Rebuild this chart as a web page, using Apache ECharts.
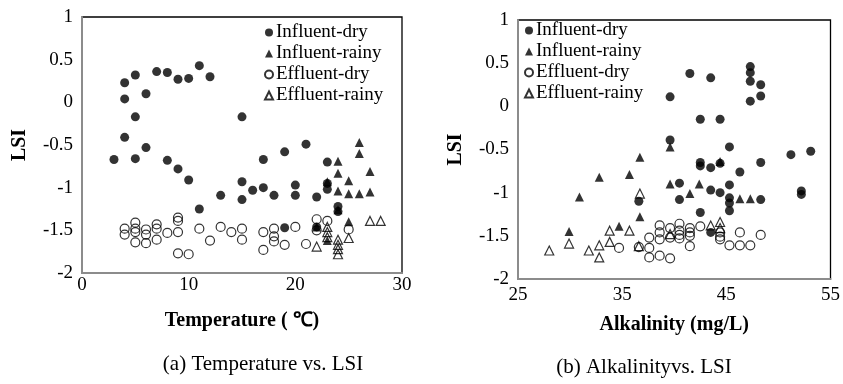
<!DOCTYPE html>
<html>
<head>
<meta charset="utf-8">
<script src="https://cdn.jsdelivr.net/npm/echarts@6/dist/echarts.min.js"></script>
<style>html,body{margin:0;padding:0;background:#fff;}#c{width:843px;height:384px;}</style>
</head>
<body>
<div id="c"></div>
<script>
// ---- Data: panel (a) Temperature (°C) vs LSI ----
const seriesNames = ['Influent-dry', 'Influent-rainy', 'Effluent-dry', 'Effluent-rainy'];
const tempTicks = [0, 10, 20, 30];
const alkTicks = [25, 35, 45, 55];
const lsiTicks = [-2, -1.5, -1, -0.5, 0, 0.5, 1];

const influentDryT = [
  [4,0.23],[5,0.32],[4,0.04],[6,0.10],[5,-0.17],[7,0.36],[8,0.35],[9,0.27],[10,0.28],[11,0.43],[12,0.30],[4,-0.41],[15,-0.17],
  [3,-0.67],[5,-0.66],[6,-0.53],[8,-0.68],[9,-0.78],[10,-0.91],[11,-1.25],
  [17,-0.67],[19,-0.58],[21,-0.49],[23,-0.70],[15,-0.93],[16,-1.03],[17,-1.00],[15,-1.14],[13,-1.09],[18,-1.09],
  [20,-0.97],[20,-1.09],[22,-1.11],[23,-0.95],[23,-1.02],[24,-1.22],[24,-1.28],[19,-1.47],[22,-1.46]
];
const influentRainyT = [
  [26,-0.47],[26,-0.60],[24,-0.69],[24,-0.83],[27,-0.81],[25,-0.92],[23,-0.93],[24,-1.04],[25,-1.07],[26,-1.07],
  [27,-1.05],[24,-1.26],[25,-1.40],[22,-1.46],[23,-1.62]
];
const effluentDryT = [
  [4,-1.48],[4,-1.55],[5,-1.41],[5,-1.48],[5,-1.52],[5,-1.64],[6,-1.49],[6,-1.55],[6,-1.65],[7,-1.43],[7,-1.48],[7,-1.61],
  [8,-1.53],[9,-1.35],[9,-1.39],[9,-1.52],[9,-1.77],[10,-1.78],[11,-1.48],[12,-1.62],
  [13,-1.46],[14,-1.52],[15,-1.48],[15,-1.61],[17,-1.52],[17,-1.73],[18,-1.48],[18,-1.57],[18,-1.63],[19,-1.67],
  [20,-1.46],[21,-1.66],[22,-1.37],[22,-1.50],[23,-1.39],[25,-1.49]
];
const effluentRainyT = [
  [22,-1.69],[23,-1.46],[23,-1.52],[23,-1.58],[24,-1.61],[24,-1.67],[24,-1.72],[24,-1.78],[25,-1.59],[27,-1.39],[28,-1.39]
];

// ---- Data: panel (b) Alkalinity (mg/L) vs LSI ----
const influentDryA = [
  [41.5,0.38],[43.5,0.33],[47.3,0.46],[47.3,0.39],[47.3,0.29],[48.3,0.25],[48.3,0.12],[47.3,0.06],[39.6,0.11],
  [42.5,-0.15],[44.4,-0.15],[39.6,-0.39],
  [45.3,-0.47],[51.2,-0.56],[53.1,-0.52],[42.5,-0.65],[42.5,-0.69],[43.5,-0.71],[44.4,-0.66],[48.3,-0.65],[46.3,-0.76],
  [40.5,-0.89],[45.3,-0.91],[43.5,-0.97],[44.4,-1.00],[52.2,-0.98],[52.2,-1.02],[40.5,-1.08],[45.3,-1.06],[45.3,-1.12],
  [45.3,-1.21],[48.3,-1.08],[36.6,-1.10],[42.5,-1.23],[43.5,-1.46]
];
const influentRainyA = [
  [39.6,-0.47],[36.7,-0.59],[35.7,-0.79],[32.8,-0.82],[30.9,-1.05],[39.6,-0.90],[42.4,-0.90],[41.5,-1.01],
  [46.3,-1.07],[47.3,-1.07],[36.7,-1.28],[34.7,-1.39],[29.9,-1.45],[44.4,-0.64]
];
const effluentDryA = [
  [34.7,-1.64],[36.6,-1.63],[37.6,-1.52],[37.6,-1.64],[37.6,-1.75],[38.6,-1.38],[38.6,-1.46],[38.6,-1.54],[38.6,-1.73],
  [39.6,-1.41],[39.6,-1.52],[39.6,-1.76],[40.5,-1.36],[40.5,-1.44],[40.5,-1.49],[40.5,-1.53],[41.5,-1.41],[41.5,-1.46],
  [41.5,-1.50],[41.5,-1.62],[42.5,-1.39],[44.4,-1.46],[44.4,-1.51],[44.4,-1.54],[45.3,-1.61],[46.3,-1.46],[46.3,-1.61],
  [47.3,-1.61],[48.3,-1.49]
];
const effluentRainyA = [
  [28.0,-1.67],[29.9,-1.59],[31.8,-1.67],[32.8,-1.61],[32.8,-1.75],[33.8,-1.44],[33.8,-1.57],[35.7,-1.44],[36.7,-1.01],
  [39.6,-1.48],[43.5,-1.38],[44.4,-1.34],[44.4,-1.41],[36.6,-1.62]
];

const FONT = '"Liberation Serif", "Times New Roman", serif';
const chart = echarts.init(document.getElementById('c'), null, {renderer: 'canvas'});

const styles = [
  {symbol: 'circle', itemStyle: {color: '#000'}},
  {symbol: 'triangle', itemStyle: {color: '#000'}},
  {symbol: 'circle', itemStyle: {color: 'rgba(255,255,255,0)', borderColor: '#000', borderWidth: 1.2}},
  {symbol: 'triangle', itemStyle: {color: 'rgba(255,255,255,0)', borderColor: '#000', borderWidth: 1.2}}
];
const panelA = [influentDryT, influentRainyT, effluentDryT, effluentRainyT];
const panelB = [influentDryA, influentRainyA, effluentDryA, effluentRainyA];

const series = [];
[panelA, panelB].forEach((panel, gi) => {
  panel.forEach((data, si) => {
    series.push({
      type: 'scatter', name: seriesNames[si], xAxisIndex: gi, yAxisIndex: gi,
      data: data, symbol: styles[si].symbol, symbolSize: 9,
      itemStyle: styles[si].itemStyle, emphasis: {disabled: true}, animation: false
    });
  });
});

function xAx(gi, min, max, name, gap, margin) {
  return {
    gridIndex: gi, type: 'value', min: min, max: max, interval: 10,
    name: name, nameLocation: 'middle', nameGap: gap,
    nameTextStyle: {fontFamily: FONT, fontWeight: 'bold', fontSize: 20, color: '#000'},
    axisLine: {show: true, onZero: false, lineStyle: {color: '#8c8c8c', width: 2}},
    axisTick: {show: false}, splitLine: {show: false},
    axisLabel: {fontFamily: FONT, fontSize: 19, color: '#000', margin: margin}
  };
}
function yAx(gi, gap) {
  return {
    gridIndex: gi, type: 'value', min: -2, max: 1, interval: 0.5,
    name: 'LSI', nameLocation: 'middle', nameGap: gap,
    nameTextStyle: {fontFamily: FONT, fontWeight: 'bold', fontSize: 20, color: '#000'},
    axisLine: {show: true, onZero: false, lineStyle: {color: '#8c8c8c', width: 2}},
    axisTick: {show: false}, splitLine: {show: false},
    axisLabel: {fontFamily: FONT, fontSize: 19, color: '#000', margin: 9}
  };
}
function legend(left, top) {
  return {
    data: seriesNames, orient: 'vertical', left: left, top: top,
    itemWidth: 8, itemHeight: 8, itemGap: 2, padding: 0,
    textStyle: {fontFamily: FONT, fontSize: 19, color: '#000', lineHeight: 19, padding: [0, 0, 0, -2]},
    selectedMode: false
  };
}

chart.setOption({
  backgroundColor: '#fff',
  animation: false,
  grid: [
    {left: 82, top: 17, width: 320, height: 256, show: true, borderColor: '#000', borderWidth: 1.3, backgroundColor: 'transparent'},
    {left: 518, top: 20, width: 320, height: 259, show: true, borderColor: '#000', borderWidth: 1.3, backgroundColor: 'transparent'}
  ],
  xAxis: [xAx(0, 0, 30, 'Temperature ( \u2103)', 38, 3), xAx(1, 25, 55, 'Alkalinity (mg/L)', 36, 7)],
  yAxis: [yAx(0, 52), yAx(1, 52)],
  legend: [legend(264, 23), legend(524, 21)],
  graphic: [
    {type: 'text', x: 263, y: 364, style: {text: '(a) Temperature vs. LSI', font: '21px ' + FONT, fill: '#000', align: 'center', verticalAlign: 'middle'}},
    {type: 'text', x: 644, y: 367, style: {text: '(b) Alkalinityvs. LSI', font: '21px ' + FONT, fill: '#000', align: 'center', verticalAlign: 'middle'}}
  ],
  series: series
});
</script>
</body>
</html>
